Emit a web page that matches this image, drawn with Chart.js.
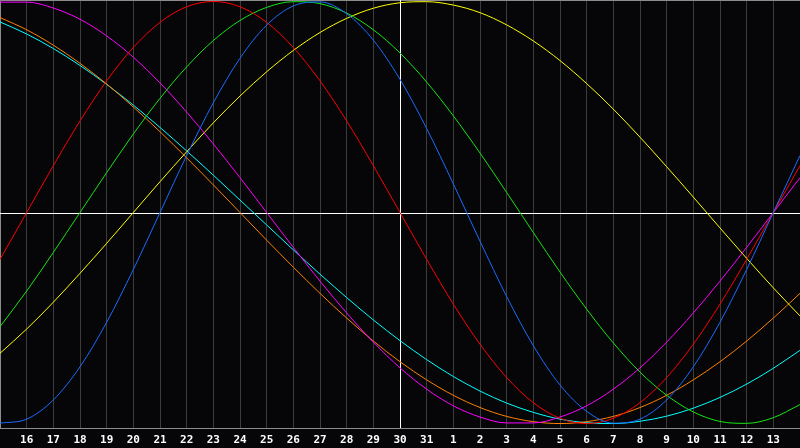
<!DOCTYPE html>
<html>
<head>
<meta charset="utf-8">
<script src="https://cdn.jsdelivr.net/npm/chart.js@4/dist/chart.umd.min.js"></script>
<style>
  html, body { margin: 0; padding: 0; background: #060609; }
  #wrap { width: 800px; height: 448px; position: relative; }
</style>
</head>
<body>
<div id="wrap"><canvas id="bioChart"></canvas></div>
<script>
'use strict';

// days shown, first and last sit on the edges
var days = [15, 16, 17, 18, 19, 20, 21, 22, 23, 24, 25, 26, 27, 28, 29, 30, 31,
  1, 2, 3, 4, 5, 6, 7, 8, 9, 10, 11, 12, 13, 14];
var todayIndex = 15;

var physical = [-0.998, -0.979, -0.888, -0.731, -0.520, -0.270, 0, 0.270, 0.520, 0.731, 0.888,
  0.979, 0.998, 0.942, 0.817, 0.631, 0.398, 0.136, -0.136, -0.398, -0.631,
  -0.817, -0.942, -0.998, -0.979, -0.888, -0.731, -0.520, -0.270, 0, 0.270];
var emotional = [-0.222, 0, 0.222, 0.434, 0.624, 0.782, 0.901, 0.975, 1, 0.975, 0.901,
  0.782, 0.624, 0.434, 0.222, 0, -0.222, -0.434, -0.624, -0.782, -0.901,
  -0.975, -1, -0.975, -0.901, -0.782, -0.624, -0.434, -0.222, 0, 0.222];
var intellectual = [-0.541, -0.372, -0.189, 0, 0.189, 0.372, 0.541, 0.690, 0.815, 0.910, 0.972,
  0.999, 0.990, 0.945, 0.866, 0.756, 0.618, 0.458, 0.282, 0.095, -0.095,
  -0.282, -0.458, -0.618, -0.756, -0.866, -0.945, -0.990, -0.999, -0.972, -0.910];
var intuitive = [0.997, 0.997, 0.969, 0.916, 0.837, 0.736, 0.614, 0.476, 0.325, 0.165, 0,
  -0.165, -0.325, -0.476, -0.614, -0.736, -0.837, -0.916, -0.969, -0.997, -0.997,
  -0.969, -0.916, -0.837, -0.736, -0.614, -0.476, -0.325, -0.165, 0, 0.165];
var aesthetic = [-0.667, -0.552, -0.425, -0.288, -0.146, 0, 0.146, 0.288, 0.425, 0.552, 0.667,
  0.768, 0.853, 0.920, 0.968, 0.994, 0.999, 0.983, 0.947, 0.889, 0.813,
  0.720, 0.611, 0.490, 0.357, 0.217, 0.073, -0.073, -0.217, -0.357, -0.490];
var awareness = [0.924, 0.866, 0.793, 0.707, 0.609, 0.5, 0.383, 0.259, 0.131, 0, -0.131,
  -0.259, -0.383, -0.5, -0.609, -0.707, -0.793, -0.866, -0.924, -0.966, -0.991,
  -1, -0.991, -0.966, -0.924, -0.866, -0.793, -0.707, -0.609, -0.5, -0.383];
var spiritual = [0.903, 0.846, 0.777, 0.697, 0.607, 0.509, 0.403, 0.292, 0.177, 0.059, -0.059,
  -0.177, -0.292, -0.403, -0.509, -0.607, -0.697, -0.777, -0.846, -0.903, -0.947,
  -0.979, -0.996, -1.0, -0.989, -0.965, -0.927, -0.876, -0.813, -0.738, -0.653];

function line(label, values, color) {
  return {
    label: label,
    data: values,
    borderColor: color,
    borderWidth: 1,
    pointRadius: 0,
    fill: false,
    cubicInterpolationMode: 'monotone'
  };
}

// white "today" line + zero line, grey frame
var markers = {
  id: 'markers',
  beforeDatasetsDraw: function(chart) {
    var ctx = chart.ctx;
    var area = chart.chartArea;
    var x = Math.round(chart.scales.x.getPixelForValue(todayIndex)) + 0.5;
    var y = Math.round(chart.scales.y.getPixelForValue(0)) + 0.5;
    ctx.save();
    ctx.lineWidth = 1;
    ctx.strokeStyle = '#8c8c8c';
    ctx.beginPath();
    ctx.moveTo(0.5, area.bottom);
    ctx.lineTo(0.5, 0.5);
    ctx.lineTo(800, 0.5);
    ctx.moveTo(0, area.bottom + 0.5);
    ctx.lineTo(800, area.bottom + 0.5);
    ctx.stroke();
    ctx.strokeStyle = '#ffffff';
    ctx.beginPath();
    ctx.moveTo(x, area.top);
    ctx.lineTo(x, area.bottom);
    ctx.moveTo(area.left, y);
    ctx.lineTo(area.right, y);
    ctx.stroke();
    ctx.restore();
  }
};

var ctx = document.getElementById('bioChart').getContext('2d');

var chart = new Chart(ctx, {
  type: 'line',
  data: {
    labels: days,
    datasets: [
      line('Physical', physical, '#1a6cff'),
      line('Emotional', emotional, '#ff0000'),
      line('Intellectual', intellectual, '#14e614'),
      line('Intuitive', intuitive, '#ff00ff'),
      line('Aesthetic', aesthetic, '#ffff00'),
      line('Awareness', awareness, '#ff8000'),
      line('Spiritual', spiritual, '#00ffff')
    ]
  },
  options: {
    responsive: true,
    maintainAspectRatio: false,
    animation: false,
    layout: { padding: 0 },
    plugins: {
      legend: { display: false },
      tooltip: { enabled: false }
    },
    scales: {
      x: {
        offset: false,
        afterFit: function(scale) {
          scale.height = 20;
          scale.paddingLeft = 0;
          scale.paddingRight = 0;
        },
        border: { display: false },
        grid: {
          color: '#3c3c3c',
          lineWidth: 1,
          drawTicks: false
        },
        ticks: {
          autoSkip: false,
          maxRotation: 0,
          padding: 6,
          color: '#ffffff',
          font: { family: 'DejaVu Sans Mono', size: 11, weight: 'bold' },
          callback: function(value, index) {
            if (index === 0 || index === days.length - 1) return '';
            return days[index];
          }
        }
      },
      y: {
        display: false,
        min: -1.021,
        max: 1.007
      }
    }
  },
  plugins: [markers]
});
</script>
</body>
</html>
